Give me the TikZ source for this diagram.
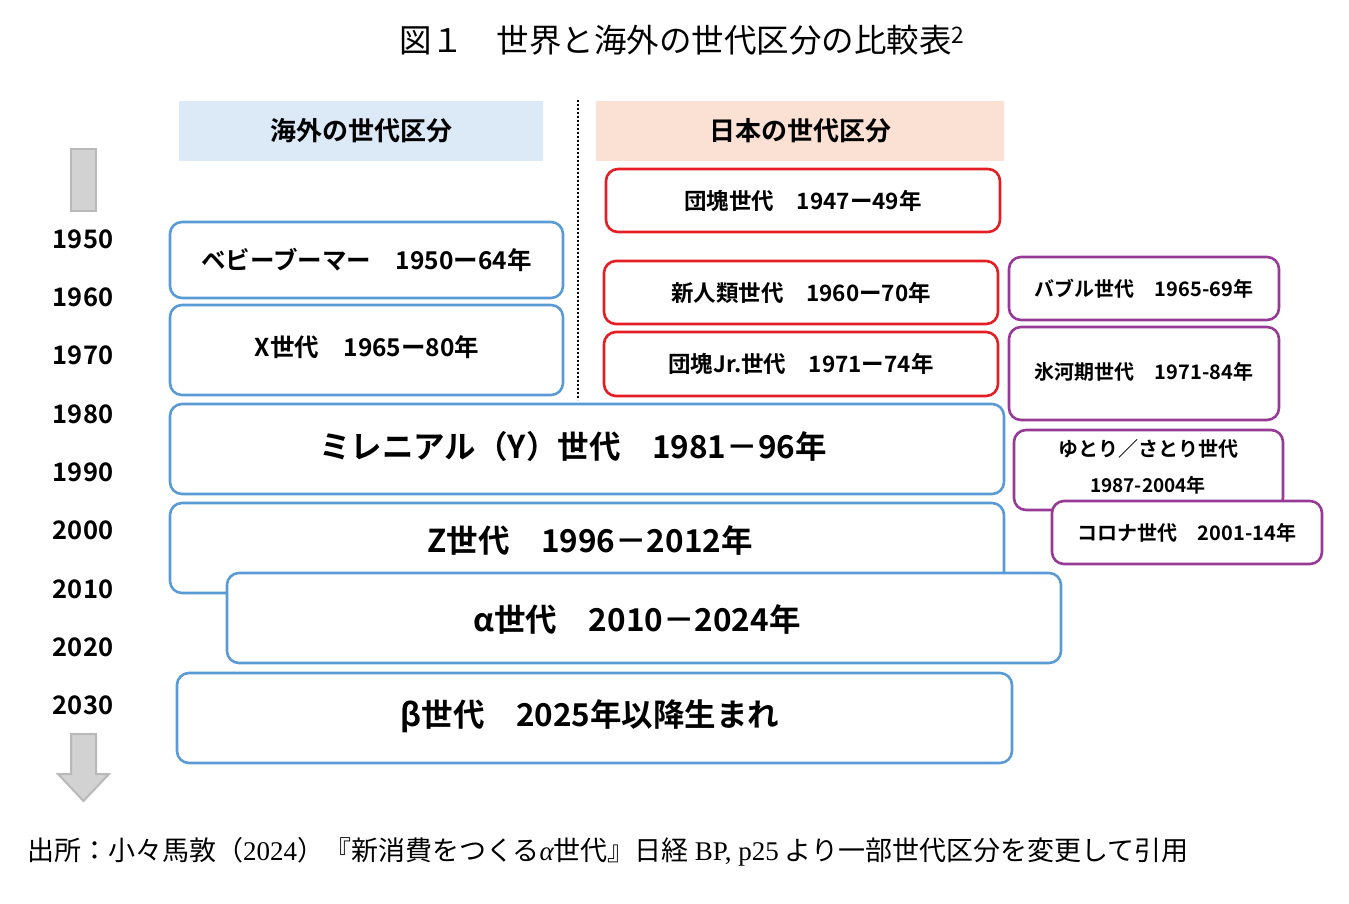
\documentclass[tikz,border=0pt]{standalone}
\usepackage{fontspec}
\setmainfont{Noto Sans CJK JP}[BoldFont={* Bold}]
\newfontfamily\lserif{Liberation Serif}
\usetikzlibrary{positioning}
\definecolor{bluel}{RGB}{91,155,213}
\definecolor{redl}{RGB}{228,30,36}
\definecolor{purl}{RGB}{150,58,150}
\definecolor{hblue}{RGB}{220,233,246}
\definecolor{hpeach}{RGB}{251,225,212}
\definecolor{agray}{RGB}{210,210,210}
\definecolor{agrayd}{RGB}{185,185,185}
\tikzset{
  gbox/.style={draw=#1, line width=2.6pt, rounded corners=12pt, fill=white, inner sep=0pt, font=\bfseries},
  hdr/.style={fill=#1, inner sep=0pt, font=\bfseries\fontsize{26}{30}\selectfont},
  yr/.style={font=\bfseries\fontsize{25.5}{30}\selectfont},
  smalltxt/.style={font=\bfseries\fontsize{24.5}{28}\selectfont},
  bigtxt/.style={font=\bfseries\fontsize{31.5}{36}\selectfont},
  redtxt/.style={font=\bfseries\fontsize{22.5}{26}\selectfont},
  purtxt/.style={font=\bfseries\fontsize{20}{24}\selectfont},
}
\begin{document}
\begin{tikzpicture}[x=1pt,y=-1pt]
\useasboundingbox (0,0) rectangle (1349,903);
% title
\node[font=\fontsize{32.5}{36}\selectfont, anchor=center] (title) at (682,40) {図１　世界と海外の世代区分の比較表\textsuperscript{2}};
% headers
\node[hdr=hblue, minimum width=364pt, minimum height=60pt] (hL) at (361,131) {海外の世代区分};
\node[hdr=hpeach, minimum width=408pt, minimum height=60pt] (hR) at (800,131) {日本の世代区分};
\coordinate (dtop) at (578,100);
\coordinate (dbot) at (578,400);
\draw[line width=2.2pt, dash pattern=on 2pt off 2pt] (dtop) -- (dbot);
% gray arrows
\node[draw=agrayd, fill=agray, line width=2pt, minimum width=25pt, minimum height=62pt, inner sep=0pt] (atop) at (83.5,179.5) {};
\coordinate (ab1) at (71,734);
\draw[draw=agrayd, fill=agray, line width=2pt, line join=miter]
  (ab1) -- (96,734) -- (96,774) -- (109,774) -- (83.5,801) -- (58,774) -- (71,774) -- cycle;
% years
\foreach \y/\t in {239/1950,297/1960,355/1970,414/1980,472/1990,530/2000,589/2010,647/2020,705/2030}
  \node[yr] at (83,\y) {\t};
% blue boxes
\node[gbox=bluel, minimum width=393pt, minimum height=76pt, smalltxt] (bb) at (366.5,260) {ベビーブーマー　1950ー64年};
\node[gbox=bluel, minimum width=393pt, minimum height=90pt] (bx) at (366.5,350) {};
\node[smalltxt] (tx) at (367,347) {X世代　1965ー80年};
\node[gbox=bluel, minimum width=834pt, minimum height=90pt] (by) at (587,449) {};
\node[bigtxt] (ty) at (573,447) {ミレニアル（Y）世代　1981－96年};
\node[gbox=bluel, minimum width=834pt, minimum height=90pt] (bz) at (587,548) {};
\node[bigtxt] (tz) at (590,540) {Z世代　1996－2012年};
\node[gbox=bluel, minimum width=834pt, minimum height=90pt] (ba) at (644,618) {};
\node[bigtxt] (ta) at (637,619) {α世代　2010－2024年};
\node[gbox=bluel, minimum width=835pt, minimum height=90pt] (bbeta) at (594.5,718) {};
\node[bigtxt] (tbeta) at (590,716) {β世代　2025年以降生まれ};
% red boxes
\node[gbox=redl, minimum width=394pt, minimum height=63pt, redtxt] (r1) at (803,200.5) {団塊世代　1947ー49年};
\node[gbox=redl, minimum width=394pt, minimum height=63pt, redtxt] (r2) at (801,292.5) {新人類世代　1960ー70年};
\node[gbox=redl, minimum width=394pt, minimum height=64pt, redtxt] (r3) at (801,364) {団塊Jr.世代　1971ー74年};
% purple boxes
\node[gbox=purl, minimum width=270pt, minimum height=63pt, purtxt] (p1) at (1144,288.5) {バブル世代　1965-69年};
\node[gbox=purl, minimum width=270pt, minimum height=93pt] (p2) at (1144,373.5) {};
\node[purtxt] (tp2) at (1144,372) {氷河期世代　1971-84年};
\node[gbox=purl, minimum width=269pt, minimum height=80pt] (p3) at (1148.5,470) {};
\node[purtxt] (tp3a) at (1148,449) {ゆとり／さとり世代};
\node[font=\bfseries\fontsize{19}{23}\selectfont] (tp3b) at (1148,485) {1987-2004年};
\node[gbox=purl, minimum width=270pt, minimum height=63pt, purtxt] (p4) at (1187,532.5) {コロナ世代　2001-14年};
% footer
\node[anchor=west, font=\fontsize{27}{30}\selectfont, inner sep=0pt] (foot) at (27,852) {出所：小々馬敦（{\lserif 2024}）『新消費をつくる{\lserif\itshape α}世代』日経 {\lserif BP, p25} より一部世代区分を変更して引用};
\end{tikzpicture}
\end{document}
